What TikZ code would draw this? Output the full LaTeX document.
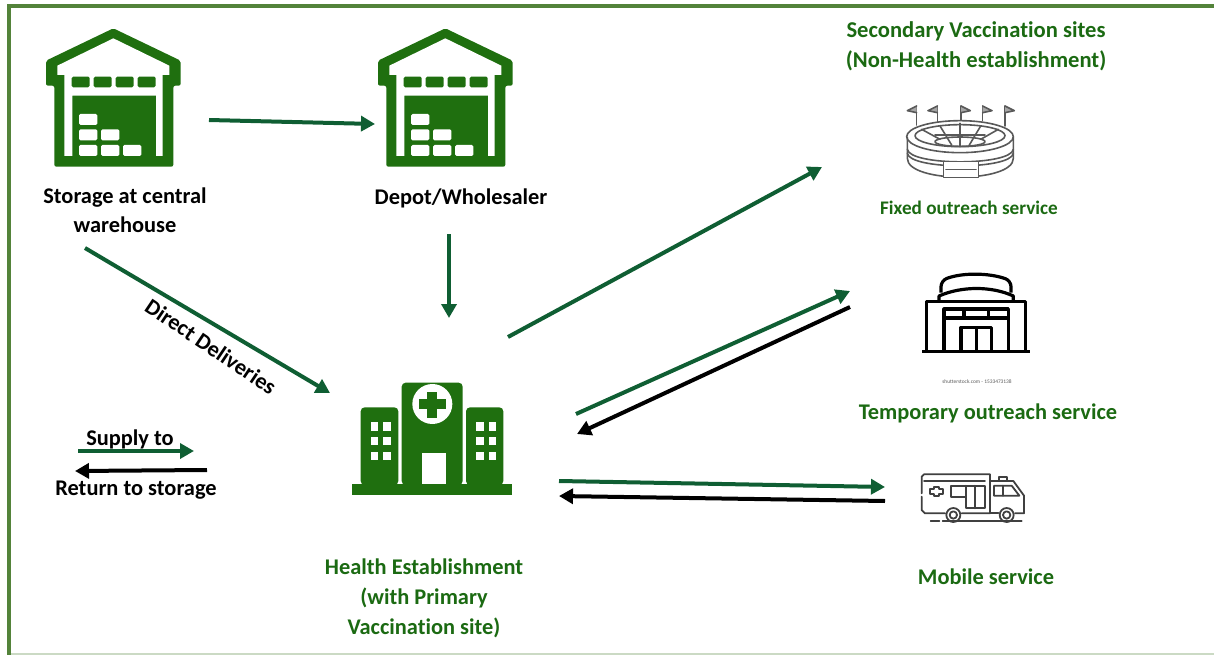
\documentclass[tikz,border=0pt]{standalone}
\usepackage{fontspec}
\setmainfont[Ligatures=NoCommon]{Carlito}
\usetikzlibrary{arrows.meta}
\definecolor{framegreen}{HTML}{53833A}
\definecolor{icongreen}{HTML}{1F6F0F}
\definecolor{arrowgreen}{HTML}{0F5E33}
\definecolor{textgreen}{HTML}{1B6A12}
\tikzset{
  flow/.style={line width=4pt,-{Triangle[length=14pt,width=15pt]}},
  supply/.style={flow,draw=arrowgreen,fill=arrowgreen},
  back/.style={flow,draw=black},
  lab/.style={font=\bfseries\fontsize{22.4}{29}\selectfont,align=center,inner sep=0pt},
  glab/.style={lab,text=textgreen},
  thin icon/.style={draw=black!65,line width=1.6pt,line join=round,line cap=round},
  thick icon/.style={draw=black,line width=3.2pt,line join=round},
  pics/warehouse/.style={code={
    \begin{scope}[scale=1/3]
    \fill[icongreen,rounded corners=2pt] (250,-5) -- (452,92) -- (452,167) -- (430,167) -- (430,410) -- (73,410) -- (73,167) -- (48,167) -- (48,92) -- cycle;
    \fill[white] (250,25) -- (418,107) -- (418,135) -- (398,135) -- (398,378) -- (378,378) -- (378,197) -- (127,197) -- (127,378) -- (103,378) -- (103,135) -- (82,135) -- (82,107) -- cycle;
    \foreach \x in {125,191,257,323}
      \fill[icongreen,rounded corners=1.5pt] (\x,140) rectangle (\x+54,172);
    \foreach \x/\y in {147/252,147/298,213/298,147/345,213/345,279/345}
      \fill[white,rounded corners=1.5pt] (\x,\y) rectangle (\x+55,\y+33);
    \end{scope}
  }},
  pics/hospital/.style={code={
    \begin{scope}[scale=1/3]
    \fill[icongreen] (35,342) rectangle (515,375);
    \fill[icongreen,rounded corners=4pt] (62,345) -- (62,112) -- (175,112) -- (175,345) -- cycle;
    \fill[icongreen,rounded corners=4pt] (185,345) -- (185,38) -- (368,38) -- (368,345) -- cycle;
    \fill[icongreen,rounded corners=4pt] (378,345) -- (378,112) -- (490,112) -- (490,345) -- cycle;
    \fill[white] (277,102) circle (60);
    \fill[icongreen] (262,65) rectangle (292,143);
    \fill[icongreen] (237,88) rectangle (317,117);
    \fill[white] (245,248) rectangle (317,342);
    \foreach \x in {92,130,408,446}
      \foreach \y in {157,201,245}
        \fill[white] (\x,\y) rectangle (\x+23,\y+25);
    \end{scope}
  }},
  pics/stadium/.style={code={
    \begin{scope}[scale=1/3,thin icon]
    \foreach \x/\y/\d in {80/105/-1,142/95/-1,213/90/1,278/92/1,345/108/1} {
      \draw (\x,\y) -- (\x,48);
      \draw[fill=black!35] (\x,48) -- (\x+28*\d,62) -- (\x,68);
    }
    \draw (210,140) ellipse (160 and 48);
    \draw (210,137) ellipse (135 and 33);
    \draw (210,155) ellipse (75 and 14);
    \draw (52,142) -- (52,205) .. controls (52,280) and (370,280) .. (370,205) -- (370,142);
    \draw (52,178) .. controls (60,228) and (362,228) .. (370,178);
    \draw (52,190) .. controls (60,240) and (362,240) .. (370,190);
    \draw (210,100) -- (210,170);
    \draw (150,108) -- (185,165);
    \draw (272,108) -- (238,165);
    \draw (95,118) -- (150,148);
    \draw (325,118) -- (272,148);
    \draw (135,135) -- (285,135);
    \draw[fill=white] (160,215) -- (265,215) -- (265,262) -- (160,262) -- cycle;
    \draw (168,238) -- (258,238);
    \end{scope}
  }},
  pics/storefront/.style={code={
    \begin{scope}[scale=1/3,thick icon]
    \draw[rounded corners=6pt] (108,128) -- (108,92) .. controls (170,68) and (250,68) .. (318,92) -- (318,128);
    \draw (102,152) -- (102,138) .. controls (170,108) and (260,108) .. (325,138) -- (325,152);
    \draw (65,304) -- (65,154) -- (362,154) -- (362,304);
    \draw (52,304) -- (376,304);
    \draw (117,304) -- (117,177) -- (310,177) -- (310,304);
    \draw (117,204) -- (310,204);
    \draw (177,177) -- (177,204);
    \draw (250,177) -- (250,204);
    \draw (168,304) -- (168,232) -- (260,232) -- (260,304);
    \draw (214,232) -- (214,304);
    \end{scope}
  }},
  pics/ambulance/.style={code={
    \begin{scope}[scale=1/3,thin icon,draw=black!75,line width=1.8pt]
    \draw (65,145) -- (65,95) -- (72,88) -- (270,88) -- (270,205) -- (185,205);
    \draw (65,155) -- (65,195) -- (75,205) -- (135,205);
    \draw (72,108) -- (255,108);
    \draw (270,108) -- (340,108) -- (372,152) -- (372,205) -- (345,205);
    \draw (270,205) -- (295,205);
    \draw (282,122) -- (335,122) -- (358,152) -- (282,152) -- cycle;
    \draw (308,122) -- (308,152);
    \draw (298,106) -- (298,95) -- (322,95) -- (322,106);
    \draw (152,122) -- (255,122) -- (255,190) -- (197,190) -- (197,155) -- (152,155) -- cycle;
    \draw (197,122) -- (197,155);
    \draw (226,122) -- (226,190);
    \draw (103,125) -- (117,125) -- (117,132) -- (130,132) -- (130,146) -- (117,146) -- (117,152) -- (103,152) -- (103,146) -- (90,146) -- (90,132) -- (103,132) -- cycle;
    \draw (160,210) circle (21);
    \draw (160,210) circle (11);
    \draw (320,210) circle (21);
    \draw (320,210) circle (11);
    \draw (92,229) -- (118,229);
    \draw (128,229) -- (365,229);
    \end{scope}
  }}
}
\begin{document}
\begin{tikzpicture}[x=1pt,y=-1pt]
\useasboundingbox (0,0) rectangle (1214,655);
\draw[framegreen!30,line width=2pt] (9,654) -- (1216,654);
\draw[framegreen,line width=4pt] (9,6.3) -- (1216,6.3);
\draw[framegreen,line width=4pt] (9,4.3) -- (9,657);
% icons
\pic at (30,30) {warehouse};
\pic at (362,30) {warehouse};
\pic at (340,370) {hospital};
\pic at (890,90) {stadium};
\pic at (905,250) {storefront};
\pic at (900,445) {ambulance};
\node[font=\fontsize{5.4}{6}\selectfont,text=black!65,inner sep=0pt] (stockmark) at (977,382) {shutterstock.com - 1533473138};
% labels
\node[lab] (central) at (125,210) {Storage at central\\warehouse};
\node[lab] (depot) at (461,198) {Depot/Wholesaler};
\node[glab,font=\bfseries\fontsize{22.6}{30}\selectfont] (secondary) at (976,46) {Secondary Vaccination sites\\(Non-Health establishment)};
\node[glab,font=\bfseries\fontsize{19.2}{22}\selectfont] (fixed) at (969,207.5) {Fixed outreach service};
\node[glab] (temporary) at (988,413) {Temporary outreach service};
\node[glab] (mobile) at (986,577) {Mobile service};
\node[glab,font=\bfseries\fontsize{22.4}{30}\selectfont] (health) at (424,598) {Health Establishment\\(with Primary\\Vaccination site)};
\node[lab,rotate=-34] (direct) at (211,346.5) {Direct Deliveries};
\node[lab] (supplylab) at (130,439) {Supply to};
\node[lab] (returnlab) at (136,490) {Return to storage};
% arrow ends
\coordinate (wareout) at (209,120);
\coordinate (depotin) at (375,124);
\coordinate (depotout) at (449,234);
\coordinate (healthtop) at (449,318);
\coordinate (wareleft) at (85,248);
\coordinate (healthleft) at (330,393);
\coordinate (healthfixed) at (508,337);
\coordinate (fixedin) at (822,167);
\coordinate (healthtemp) at (576,414);
\coordinate (tempin) at (850,291);
\coordinate (tempout) at (850,307);
\coordinate (healthback) at (577,434);
\coordinate (healthmob) at (559,481);
\coordinate (mobin) at (885,487);
\coordinate (mobout) at (885,501);
\coordinate (healthlow) at (559,496);
\coordinate (keya) at (78,451);
\coordinate (keyb) at (194,451);
\coordinate (keyc) at (207,470);
\coordinate (keyd) at (75,471);
% arrows
\draw[supply] (wareout) -- (depotin);
\draw[supply] (depotout) -- (healthtop);
\draw[supply] (wareleft) -- (healthleft);
\draw[supply] (healthfixed) -- (fixedin);
\draw[supply] (healthtemp) -- (tempin);
\draw[back] (tempout) -- (healthback);
\draw[supply] (healthmob) -- (mobin);
\draw[back] (mobout) -- (healthlow);
\draw[supply] (keya) -- (keyb);
\draw[back] (keyc) -- (keyd);
\end{tikzpicture}
\end{document}
